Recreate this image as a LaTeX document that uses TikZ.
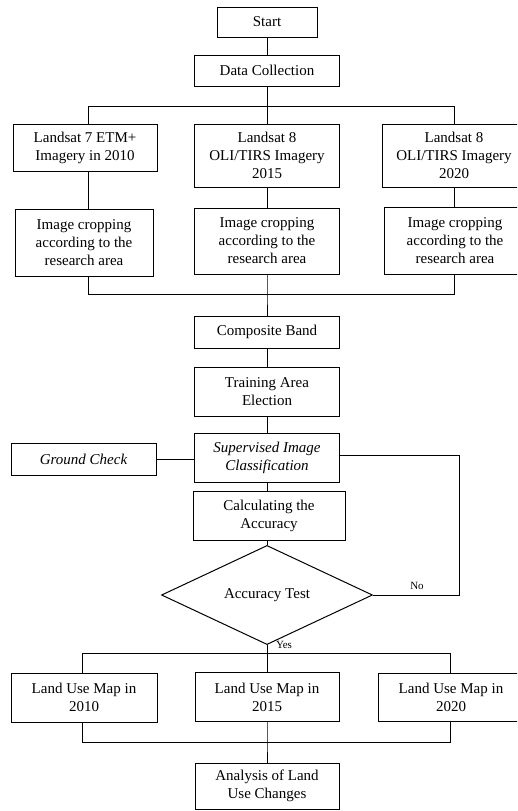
\documentclass[tikz,border=0pt]{standalone}
\usepackage{fontspec}
\setmainfont{Liberation Serif}
\usetikzlibrary{shapes.geometric}
\begin{document}
\begin{tikzpicture}[x=1pt,y=-1pt,
  box/.style={draw, line width=1pt, align=center, inner sep=0pt, font=\fontsize{15}{18}\selectfont},
  conn/.style={draw, line width=1pt},
  lbl/.style={font=\fontsize{11}{13}\selectfont, inner sep=0pt}]
\useasboundingbox (0,0) rectangle (517,811);
\clip (0,0) rectangle (517,811);
% nodes
\node[box, minimum width=100pt, minimum height=30pt] (start) at (267,22) {Start};
\node[box, minimum width=145pt, minimum height=31pt] (data) at (267,70.5) {Data Collection};
\node[box, minimum width=144pt, minimum height=47pt] (L1) at (85,147.5) {Landsat 7 ETM+\\Imagery in 2010};
\node[box, minimum width=145pt, minimum height=63pt] (L2) at (267,155.5) {Landsat 8\\OLI/TIRS Imagery\\2015};
\node[box, minimum width=144pt, minimum height=63pt] (L3) at (454,155.5) {Landsat 8\\OLI/TIRS Imagery\\2020};
\node[box, minimum width=138pt, minimum height=67pt] (I1) at (84,242.5) {Image cropping\\according to the\\research area};
\node[box, minimum width=145pt, minimum height=66pt] (I2) at (267,241) {Image cropping\\according to the\\research area};
\node[box, minimum width=142pt, minimum height=67pt] (I3) at (455,240.5) {Image cropping\\according to the\\research area};
\node[box, minimum width=145pt, minimum height=32pt] (comp) at (267,332) {Composite Band};
\node[box, minimum width=145pt, minimum height=49pt] (train) at (267,391.5) {Training Area\\Election};
\node[box, minimum width=145pt, minimum height=49pt] (sup) at (267,457.5) {\itshape Supervised Image\\\itshape Classification};
\node[box, minimum width=145pt, minimum height=32pt] (ground) at (83.5,459) {\itshape Ground Check};
\node[box, minimum width=152pt, minimum height=49pt] (calc) at (269,515.5) {Calculating the\\Accuracy};
\node[box, diamond, minimum width=211pt, minimum height=82pt] (acc) at (267,595) {Accuracy Test};
\node[box, minimum width=146pt, minimum height=49pt] (LU1) at (84,697.5) {Land Use Map in\\2010};
\node[box, minimum width=144pt, minimum height=49pt] (LU2) at (267,697) {Land Use Map in\\2015};
\node[box, minimum width=146pt, minimum height=48pt] (LU3) at (451,697) {Land Use Map in\\2020};
\node[box, minimum width=144pt, minimum height=46pt] (anal) at (267,786) {Analysis of Land\\Use Changes};
% helper coordinates
\coordinate (bl) at (88,106);
\coordinate (bm) at (267,106);
\coordinate (br) at (454,106);
\coordinate (ml) at (88,294);
\coordinate (mm) at (267,294);
\coordinate (mr) at (454,294);
\coordinate (loopx) at (459,455);
\coordinate (cl) at (82,653);
\coordinate (cm) at (267,653);
\coordinate (cr) at (450,653);
\coordinate (dl) at (82,742);
\coordinate (dm) at (267,742);
\coordinate (dr) at (450,742);
% connectors
\path[conn] (start.south) -- (data.north);
\path[conn] (data.south) -- (bm);
\path[conn] (bl) -- (br);
\path[conn] (bl) -- (bl |- L1.north);
\path[conn] (bm) -- (L2.north);
\path[conn] (br) -- (br |- L3.north);
\path[conn] (L1.south -| bl) -- (bl |- I1.north);
\path[conn] (L2.south) -- (I2.north);
\path[conn] (L3.south -| br) -- (br |- I3.north);
\path[conn] (I1.south -| ml) -- (ml) -- (mr) -- (mr |- I3.south);
\path[conn] (I2.south) -- (mm) -- (comp.north);
\path[conn] (comp.south) -- (train.north);
\path[conn] (train.south) -- (sup.north);
\path[conn] (ground.east) -- (ground.east -| sup.west);
\path[conn] (sup.south) -- (sup.south |- calc.north);
\path[conn] (calc.south -| acc.north) -- (acc.north);
\path[conn] (sup.east |- loopx) -- (loopx) -- (loopx |- acc.east) -- (acc.east);
\node[lbl] (no) at (417,586) {No};
\path[conn] (acc.south) -- (cm);
\node[lbl] (yes) at (284,645) {Yes};
\path[conn] (cl) -- (cr);
\path[conn] (cl) -- (cl |- LU1.north);
\path[conn] (cm) -- (LU2.north);
\path[conn] (cr) -- (cr |- LU3.north);
\path[conn] (LU1.south -| dl) -- (dl) -- (dr) -- (dr |- LU3.south);
\path[conn] (LU2.south) -- (dm) -- (anal.north);
\end{tikzpicture}
\end{document}
